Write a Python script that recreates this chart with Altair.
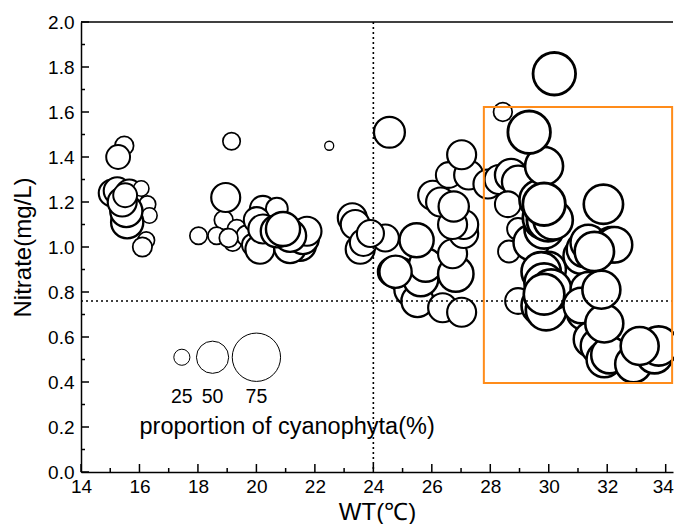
import altair as alt
import pandas as pd

# ---- data ----
wt = [15.48, 15.27, 15.07, 15.24, 15.65, 16.06, 16.27, 16.34, 16.23, 16.10, 15.58, 15.55, 15.41, 15.51,
      19.15, 22.49, 18.02, 18.88, 19.33, 19.19, 19.67, 18.64, 19.88, 20.22, 20.70, 20.01, 20.12, 20.22,
      21.49, 21.15, 21.59, 21.73, 21.15, 20.70, 19.05, 18.95, 20.91,
      24.55, 23.28, 23.38, 23.55, 23.66, 24.41, 23.90, 24.65, 24.93, 25.27, 25.51, 25.62, 25.79, 24.76,
      25.48, 26.37, 27.02, 26.82, 26.71, 27.09, 27.09, 26.71, 26.03, 26.30, 26.75, 26.58, 27.26, 27.02, 27.92,
      28.43, 28.30, 28.71, 28.95, 28.60, 28.95, 28.64, 28.95, 29.40, 29.98, 29.74, 29.84, 29.74, 29.91,
      30.08, 29.84, 29.67, 29.84, 29.84, 29.33, 30.19, 29.84, 29.98, 30.15, 29.84,
      31.11, 31.22, 31.35, 32.14, 32.25, 31.56, 31.35, 31.22, 31.11, 31.46, 31.70, 31.90, 32.08, 32.90,
      33.62, 33.76, 33.11, 31.90, 31.80, 31.87]
nitrate = [1.45, 1.40, 1.24, 1.25, 1.24, 1.26, 1.19, 1.14, 1.03, 1.00, 1.11, 1.16, 1.20, 1.23,
           1.47, 1.45, 1.05, 1.12, 1.08, 1.02, 1.05, 1.05, 1.01, 1.17, 1.17, 1.12, 0.99, 1.08,
           1.01, 1.00, 1.04, 1.07, 1.05, 1.07, 1.04, 1.22, 1.08,
           1.51, 1.13, 1.10, 0.99, 1.02, 1.04, 1.06, 0.89, 0.88, 0.81, 0.76, 0.86, 0.92, 0.89,
           1.03, 0.73, 0.71, 0.88, 0.97, 1.06, 1.10, 1.10, 1.23, 1.20, 1.18, 1.32, 1.32, 1.41, 1.28,
           1.60, 1.30, 1.32, 1.29, 1.19, 1.08, 0.98, 0.76, 1.02, 0.90, 0.89, 0.84, 0.74, 0.72,
           0.81, 0.79, 1.21, 1.08, 1.36, 1.51, 1.77, 1.13, 1.12, 1.12, 1.19,
           0.96, 0.99, 1.02, 1.01, 1.01, 0.98, 0.81, 0.71, 0.74, 0.59, 0.56, 0.50, 0.52, 0.48,
           0.52, 0.56, 0.56, 0.66, 0.81, 1.19]
cyano = [29, 37, 42, 42, 42, 24, 26, 24, 26, 30, 50, 50, 45, 37,
         27, 14, 27, 29, 29, 27, 32, 27, 34, 40, 34, 40, 45, 45,
         50, 50, 50, 45, 50, 50, 29, 45, 53,
         48, 45, 45, 45, 42, 42, 42, 45, 50, 50, 50, 55, 52, 50,
         53, 45, 45, 55, 45, 45, 45, 45, 45, 45, 47, 40, 45, 45, 45,
         29, 45, 50, 50, 40, 34, 34, 40, 55, 55, 61, 61, 61, 63,
         63, 63, 61, 61, 59, 66, 66, 66, 66, 61, 66,
         55, 55, 55, 55, 55, 61, 55, 55, 55, 55, 55, 55, 57, 57,
         57, 61, 59, 59, 59, 61]

legend_vals = [25, 50, 75]
legend_labels = ["25", "50", "75"]
legend_x = [17.45, 18.5, 20.0]
legend_y = [0.51, 0.51, 0.51]
legend_label_y = [0.333, 0.333, 0.333]
caption = ["proportion of cyanophyta(%)"]
caption_x = [21.05]
caption_y = [0.2]

x_major = [14, 16, 18, 20, 22, 24, 26, 28, 30, 32, 34]
x_minor = [15, 17, 19, 21, 23, 25, 27, 29, 31, 33]
y_major = [0.0, 0.2, 0.4, 0.6, 0.8, 1.0, 1.2, 1.4, 1.6, 1.8, 2.0]
y_minor = [0.1, 0.3, 0.5, 0.7, 0.9, 1.1, 1.3, 1.5, 1.7, 1.9]

wt_threshold = [24.0]
nitrate_threshold = [0.76]
box_wt = [27.78]
box_wt2 = [34.22]
box_n = [0.396]
box_n2 = [1.622]

W, H = 592, 450
FONT = "Liberation Sans"

xs = alt.Scale(domain=[14, 34.25], nice=False, zero=False)
ys = alt.Scale(domain=[0, 2.0], nice=False, zero=False)
size_scale = alt.Scale(type="pow", exponent=2, domain=[0, 100], range=[0, 4150])

x_axis = alt.Axis(title="WT(℃)", values=x_major, format="d", tickSize=0, grid=False,
                  labelFont=FONT, labelFontSize=19, labelColor="black", labelPadding=5,
                  labelOffset=alt.expr("datum.value == 34 ? -3 : 0"),
                  labelFlush=False, labelOverlap=False,
                  domainColor="black", domainWidth=1.5,
                  titleFont=FONT, titleFontSize=24, titleFontWeight="normal",
                  titleColor="black", titlePadding=4)
y_axis = alt.Axis(title="Nitrate(mg/L)", values=y_major, format=".1f", tickSize=0, grid=False,
                  labelFont=FONT, labelFontSize=19, labelColor="black", labelPadding=7,
                  labelFlush=False, labelOverlap=False,
                  domainColor="black", domainWidth=1.5,
                  titleFont=FONT, titleFontSize=24, titleFontWeight="normal",
                  titleColor="black", titlePadding=12)

X = lambda: alt.X("wt:Q", scale=xs, axis=x_axis)
Y = lambda: alt.Y("nitrate:Q", scale=ys, axis=y_axis)

df = pd.DataFrame({"wt": wt, "nitrate": nitrate, "cyano": cyano})

points = alt.Chart(df).mark_circle(fill="white", stroke="black", opacity=1,
                                   fillOpacity=1, strokeOpacity=1).encode(
    x=X(), y=Y(),
    size=alt.Size("cyano:Q", scale=size_scale, legend=None),
    strokeWidth=alt.StrokeWidth("cyano:Q", scale=alt.Scale(domain=[14, 66], range=[1.3, 2.8]), legend=None),
)

leg_df = pd.DataFrame({"wt": legend_x, "nitrate": legend_y, "cyano": legend_vals})
legend_circles = alt.Chart(leg_df).mark_circle(fill="white", stroke="black", strokeWidth=1,
                                               opacity=1, fillOpacity=1).encode(
    x=X(), y=Y(),
    size=alt.Size("cyano:Q", scale=size_scale, legend=None),
)
lab_df = pd.DataFrame({"wt": legend_x, "nitrate": legend_label_y, "lab": legend_labels})
legend_text = alt.Chart(lab_df).mark_text(font=FONT, fontSize=19.5, color="black",
                                          baseline="middle", align="center").encode(
    x=X(), y=Y(), text="lab:N",
)
cap_df = pd.DataFrame({"wt": caption_x, "nitrate": caption_y, "t": caption})
caption_text = alt.Chart(cap_df).mark_text(font=FONT, fontSize=23.5, color="black",
                                           baseline="middle", align="center").encode(
    x=X(), y=Y(), text="t:N",
)

vline = alt.Chart(pd.DataFrame({"wt": wt_threshold})).mark_rule(
    color="black", strokeWidth=1.6, strokeDash=[2, 3]).encode(
    x=X(), y=alt.value(0), y2=alt.value(H))
hline = alt.Chart(pd.DataFrame({"nitrate": nitrate_threshold})).mark_rule(
    color="black", strokeWidth=1.6, strokeDash=[2, 3]).encode(
    y=Y(), x=alt.value(0), x2=alt.value(W))

box = alt.Chart(pd.DataFrame({"wt": box_wt, "wt2": box_wt2, "nitrate": box_n, "nitrate2": box_n2})).mark_rect(
    fillOpacity=0, stroke="#FF8C1A", strokeWidth=2).encode(
    x=X(), x2="wt2:Q", y=Y(), y2="nitrate2:Q")

top_line = alt.Chart(pd.DataFrame({"nitrate": [2.0]})).mark_rule(color="black", strokeWidth=1.5).encode(
    y=Y(), x=alt.value(0), x2=alt.value(W))

xt_major = alt.Chart(pd.DataFrame({"wt": x_major})).mark_rule(color="black", strokeWidth=1.5).encode(
    x=X(), y=alt.value(H), y2=alt.value(H - 8))
xt_minor = alt.Chart(pd.DataFrame({"wt": x_minor})).mark_rule(color="black", strokeWidth=1.5).encode(
    x=X(), y=alt.value(H), y2=alt.value(H - 4))
yt_major = alt.Chart(pd.DataFrame({"nitrate": y_major})).mark_rule(color="black", strokeWidth=1.5).encode(
    y=Y(), x=alt.value(0), x2=alt.value(8))
yt_minor = alt.Chart(pd.DataFrame({"nitrate": y_minor})).mark_rule(color="black", strokeWidth=1.5).encode(
    y=Y(), x=alt.value(0), x2=alt.value(4))

chart = alt.layer(
    points, legend_circles, legend_text, caption_text,
    vline, hline, box, top_line, xt_major, xt_minor, yt_major, yt_minor,
).properties(
    width=W, height=H,
    autosize=alt.AutoSizeParams(type="none"),
    padding={"left": 73, "top": 14, "right": 1, "bottom": 52},
    background="white",
).configure_view(stroke=None)

chart.save("out.html", embed_options={"renderer": "svg", "actions": False})
